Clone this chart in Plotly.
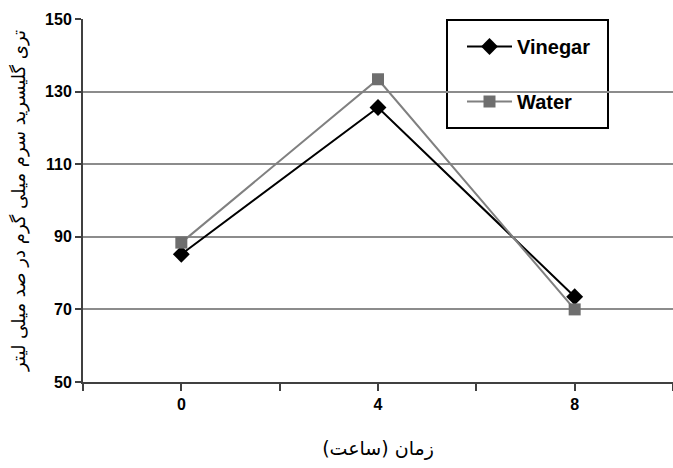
import plotly.graph_objects as go

hours = [0, 4, 8]
vinegar = [85.2, 125.6, 73.5]
water = [88.4, 133.4, 70.0]
series_names = ["Vinegar", "Water"]
y_ticks = [50, 70, 90, 110, 130, 150]
x_ticks = [0, 4, 8]
x_title = "زمان (ساعت)"
y_title = "تری گلیسرید سرم میلی گرم در صد میلی لیتر"

L, R, T, B, W, H = 83, 0, 19, 86, 673, 468
pw = W - L - R
ph = H - T - B

fig = go.Figure()
fig.add_trace(go.Scatter(
    x=hours, y=vinegar, name="<b>%s</b>" % series_names[0], mode="lines+markers",
    line=dict(color="#000000", width=2),
    marker=dict(symbol="diamond", size=13, color="#000000"),
    legendgroup="a",
))
fig.add_trace(go.Scatter(
    x=hours, y=water, name="<b>%s</b>" % series_names[1], mode="lines+markers",
    line=dict(color="#808080", width=2),
    marker=dict(symbol="square", size=12, color="#6e6e6e"),
    legendgroup="b",
))

def px_x(p):
    return (p - L) / pw

def px_y(p):
    return (H - B - p) / ph

fig.add_shape(type="rect", xref="paper", yref="paper",
              x0=px_x(447), x1=px_x(608), y0=px_y(128), y1=px_y(20),
              line=dict(color="#000000", width=2), fillcolor="white", layer="below")

fig.update_layout(
    width=W, height=H, autosize=False,
    margin=dict(l=L, r=R, t=T, b=B, autoexpand=False),
    paper_bgcolor="white", plot_bgcolor="white",
    font=dict(family="Liberation Sans, Arial, sans-serif", color="#000000"),
    showlegend=True,
    legend=dict(
        x=px_x(462), y=px_y(27), xanchor="left", yanchor="top",
        bgcolor="rgba(0,0,0,0)", borderwidth=0, itemwidth=45,
        font=dict(size=20, family="Liberation Sans, Arial, sans-serif"),
        traceorder="grouped", tracegroupgap=26,
    ),
    xaxis=dict(
        range=[-2, 10], tickmode="array", tickvals=x_ticks,
        ticktext=["<b>%d</b>" % v for v in x_ticks], automargin=False,
        ticks="outside", ticklen=7, tickwidth=2, tickcolor="#404040",
        minor=dict(tickmode="array", tickvals=[-2, 2, 6, 10], ticks="outside",
                   ticklen=7, tickwidth=2, tickcolor="#404040", showgrid=False),
        showgrid=False, zeroline=False,
        showline=True, linecolor="#404040", linewidth=2,
        tickfont=dict(size=16, family="Liberation Sans"),
        title=dict(text=x_title, font=dict(size=19, family="DejaVu Sans", color="#000000"), standoff=29),
    ),
    yaxis=dict(
        range=[50, 150], tickmode="array", tickvals=y_ticks,
        ticktext=["<b>%d</b>" % v for v in y_ticks], automargin=False,
        ticks="outside", ticklen=6, tickwidth=2, tickcolor="#404040",
        showgrid=True, gridcolor="#8c8c8c", gridwidth=2,
        zeroline=False, showline=True, linecolor="#404040", linewidth=2,
        tickfont=dict(size=16, family="Liberation Sans"),
        title=dict(text=y_title, font=dict(size=18, family="DejaVu Sans", color="#000000"), standoff=15),
    ),
)

fig.write_html(
    "out.html",
    config={"responsive": False, "displayModeBar": False},
    default_width="673px", default_height="468px",
    post_script="document.body.style.margin='0';document.body.style.overflow='hidden';",
)
